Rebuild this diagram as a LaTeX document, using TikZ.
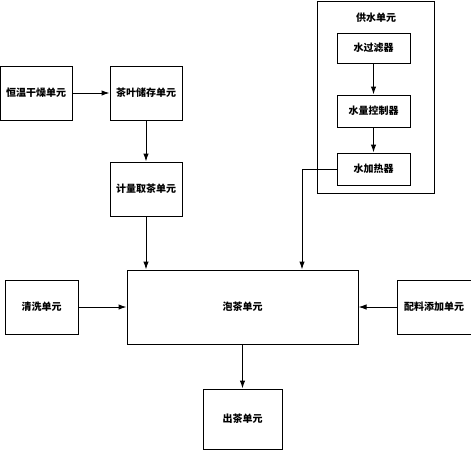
\documentclass[tikz,border=0pt]{standalone}
\usepackage{fontspec}
\newfontfamily\cjk{Noto Sans CJK SC}
\usetikzlibrary{arrows.meta}
\begin{document}
\begin{tikzpicture}[x=1pt,y=-1pt,
  box/.style={draw,line width=1pt,inner sep=0pt,font=\cjk\bfseries\fontsize{10}{12}\selectfont},
  arr/.style={line width=1pt,-{Latex[length=8pt,width=5.5pt]}},
  lbl/.style={font=\cjk\bfseries\fontsize{10}{12}\selectfont}]
\useasboundingbox (0,0) rectangle (471,450);
% supply water group
\draw[line width=1pt] (317,1) rectangle (434,193);
\node[lbl] (gs) at (376,18) {供水单元};
\node[box,minimum width=73pt,minimum height=30pt] (f) at (373.5,48) {水过滤器};
\node[box,minimum width=73pt,minimum height=32pt] (c) at (373.5,111) {水量控制器};
\node[box,minimum width=73pt,minimum height=32pt] (h) at (373.5,169) {水加热器};
% left chain
\node[box,minimum width=72pt,minimum height=54pt] (d) at (36,93) {恒温干燥单元};
\node[box,minimum width=72pt,minimum height=54pt] (s) at (146,93) {茶叶储存单元};
\node[box,minimum width=72pt,minimum height=54pt] (m) at (146,189) {计量取茶单元};
% middle row
\node[box,minimum width=231pt,minimum height=74pt] (p) at (242.5,307) {泡茶单元};
\node[box,minimum width=73pt,minimum height=54pt] (w) at (41.5,307) {清洗单元};
\node[box,minimum width=74pt,minimum height=54pt] (a) at (434,307) {配料添加单元};
\node[box,minimum width=79pt,minimum height=60pt] (o) at (242.5,419) {出茶单元};
\coordinate (hc) at (302,169);
% connectors
\draw[arr] (d) -- (s);
\draw[arr] (s) -- (m);
\draw[arr] (f) -- (c);
\draw[arr] (c) -- (h);
\draw[arr] (m) -- (m.south |- p.north);
\draw[arr] (h.west) -- (hc) -- (hc |- p.north);
\draw[arr] (w) -- (p);
\draw[arr] (a) -- (p);
\draw[arr] (p) -- (o);
\end{tikzpicture}
\end{document}
